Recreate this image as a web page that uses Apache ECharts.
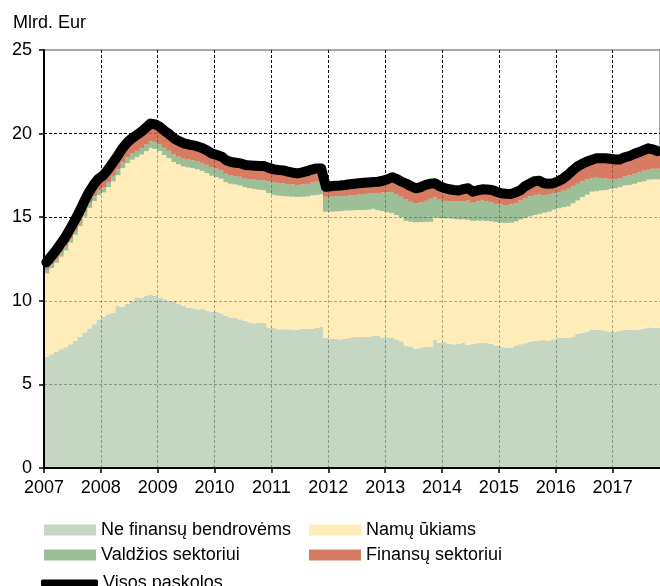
<!DOCTYPE html>
<html>
<head>
<meta charset="utf-8">
<script src="https://cdn.jsdelivr.net/npm/echarts@6/dist/echarts.min.js"></script>
<style>
  html, body { margin: 0; padding: 0; background: #fff; }
  #chart { width: 660px; height: 586px; }
</style>
</head>
<body>
<div id="chart"></div>
<script>
// Paskolos, mlrd. Eur, menesiniai duomenys 2007-01 .. 2017-10
var neFinansu = [
  6.65, 6.8, 6.95, 7.1, 7.22, 7.4, 7.6, 7.85, 8.1, 8.35, 8.6, 8.88,
  9.05, 9.2, 9.27, 9.69, 9.65, 9.81, 9.97, 10.21, 10.17, 10.29, 10.37, 10.29,
  10.17, 10.09, 10.0, 9.97, 9.81, 9.69, 9.57, 9.55, 9.49, 9.53, 9.41, 9.33,
  9.33, 9.25, 9.1, 9.0, 8.97, 8.9, 8.8, 8.7, 8.65, 8.69, 8.69, 8.4,
  8.4, 8.3, 8.3, 8.3, 8.28, 8.25, 8.31, 8.31, 8.31, 8.37, 8.43, 7.78,
  7.75, 7.72, 7.68, 7.72, 7.8, 7.83, 7.83, 7.83, 7.83, 7.93, 7.89, 7.8,
  7.8, 7.78, 7.69, 7.58, 7.3, 7.26, 7.14, 7.2, 7.24, 7.24, 7.66, 7.5,
  7.54, 7.45, 7.4, 7.42, 7.5, 7.35, 7.42, 7.47, 7.49, 7.47, 7.42, 7.32,
  7.27, 7.2, 7.2, 7.33, 7.4, 7.46, 7.55, 7.6, 7.63, 7.67, 7.6, 7.7,
  7.78, 7.78, 7.78, 7.85, 8.01, 8.09, 8.15, 8.29, 8.27, 8.26, 8.2, 8.13,
  8.15, 8.2, 8.25, 8.25, 8.26, 8.29, 8.33, 8.42, 8.37, 8.37
];
var namuUkiams = [
  4.98, 5.16, 5.32, 5.54, 5.79, 6.08, 6.35, 6.62, 6.93, 7.21, 7.37, 7.44,
  7.43, 7.6, 7.88, 7.83, 8.28, 8.43, 8.47, 8.38, 8.58, 8.66, 8.78, 8.79,
  8.79, 8.63, 8.53, 8.33, 8.36, 8.35, 8.41, 8.38, 8.37, 8.24, 8.23, 8.15,
  8.07, 8.05, 8.0, 8.0, 7.99, 8.0, 8.0, 8.04, 8.04, 7.95, 7.93, 8.05,
  7.94, 7.99, 7.97, 7.94, 7.95, 7.96, 7.91, 7.93, 7.99, 7.96, 7.94, 7.55,
  7.58, 7.63, 7.68, 7.67, 7.6, 7.59, 7.6, 7.6, 7.62, 7.57, 7.53, 7.57,
  7.5, 7.47, 7.44, 7.42, 7.48, 7.47, 7.56, 7.5, 7.48, 7.49, 7.34, 7.45,
  7.39, 7.48, 7.5, 7.45, 7.37, 7.5, 7.37, 7.33, 7.31, 7.31, 7.33, 7.38,
  7.4, 7.46, 7.47, 7.42, 7.47, 7.49, 7.5, 7.53, 7.57, 7.6, 7.73, 7.75,
  7.75, 7.82, 7.87, 7.98, 7.99, 8.11, 8.2, 8.24, 8.28, 8.34, 8.43, 8.57,
  8.58, 8.6, 8.65, 8.68, 8.74, 8.81, 8.82, 8.83, 8.9, 8.9
];
var valdzios = [
  0.22, 0.22, 0.23, 0.24, 0.24, 0.25, 0.25, 0.26, 0.27, 0.27, 0.28, 0.28,
  0.3, 0.3, 0.32, 0.33, 0.34, 0.35, 0.36, 0.38, 0.38, 0.4, 0.4, 0.42,
  0.42, 0.43, 0.44, 0.45, 0.45, 0.46, 0.47, 0.47, 0.48, 0.48, 0.49, 0.49,
  0.5, 0.5, 0.5, 0.5, 0.5, 0.52, 0.52, 0.54, 0.56, 0.58, 0.6, 0.7,
  0.76, 0.76, 0.76, 0.74, 0.73, 0.72, 0.74, 0.75, 0.77, 0.79, 0.78, 0.89,
  0.9, 0.9, 0.9, 0.88, 0.9, 0.91, 0.93, 0.96, 0.97, 0.95, 1.03, 1.11,
  1.2, 1.26, 1.25, 1.22, 1.3, 1.2, 1.13, 1.18, 1.26, 1.37, 1.18, 1.1,
  1.05, 1.04, 1.05, 1.08, 1.1, 1.14, 1.08, 1.15, 1.2, 1.17, 1.15, 1.1,
  1.09, 1.07, 1.1, 1.08, 1.13, 1.18, 1.2, 1.2, 1.18, 1.03, 1.05, 1.0,
  0.97, 1.0, 1.05, 1.02, 1.0, 0.95, 0.9, 0.8, 0.82, 0.75, 0.69, 0.58,
  0.54, 0.52, 0.55, 0.57, 0.6, 0.58, 0.63, 0.63, 0.63, 0.63
];
var finansu = [
  0.45, 0.47, 0.5, 0.52, 0.55, 0.57, 0.6, 0.62, 0.65, 0.67, 0.7, 0.7,
  0.72, 0.75, 0.78, 0.8, 0.83, 0.86, 0.9, 0.93, 0.97, 1.0, 1.05, 1.05,
  1.02, 1.0, 0.98, 0.95, 0.93, 0.92, 0.9, 0.9, 0.88, 0.87, 0.85, 0.83,
  0.82, 0.82, 0.8, 0.8, 0.8, 0.8, 0.8, 0.82, 0.83, 0.84, 0.84, 0.8,
  0.76, 0.77, 0.77, 0.74, 0.7, 0.69, 0.72, 0.76, 0.78, 0.8, 0.77, 0.6,
  0.62, 0.63, 0.64, 0.66, 0.67, 0.67, 0.67, 0.67, 0.66, 0.65, 0.67, 0.7,
  0.77, 0.88, 0.9, 0.9, 0.92, 0.92, 0.9, 0.92, 0.95, 0.9, 0.85, 0.8,
  0.77, 0.7, 0.68, 0.65, 0.71, 0.74, 0.66, 0.65, 0.67, 0.7, 0.73, 0.72,
  0.67, 0.67, 0.62, 0.65, 0.6, 0.72, 0.75, 0.82, 0.8, 0.73, 0.62, 0.58,
  0.65, 0.7, 0.82, 0.93, 1.02, 1.03, 1.07, 1.09, 1.15, 1.18, 1.2, 1.22,
  1.18, 1.13, 1.13, 1.15, 1.18, 1.2, 1.22, 1.24, 1.16, 1.05
];
var startYear = 2007;

var months = [];
for (var i = 0; i < neFinansu.length; i++) {
  months.push((startYear + Math.floor(i / 12)) + '-' + ('0' + (i % 12 + 1)).slice(-2));
}
// Visos paskolos = visu sektoriu suma
var visos = neFinansu.map(function (v, i) {
  return +(v + namuUkiams[i] + valdzios[i] + finansu[i]).toFixed(2);
});

var font = "'Liberation Sans', Arial, sans-serif";
var endYear = startYear + months.length / 12;
var gridDash = [3, 2];
var overlay = 'rgba(0,0,0,0.3)';

function bar(name, data, color) {
  return {
    name: name,
    type: 'bar',
    stack: 'visos',
    xAxisIndex: 0,
    yAxisIndex: 0,
    barWidth: '126%', // stulpeliai persidengia, kad nesimatytu tarpu
    itemStyle: { color: color },
    data: data
  };
}

function legendItem(name, left, top) {
  return {
    data: [name],
    left: left,
    top: top,
    padding: 0,
    icon: 'rect',
    itemWidth: 52,
    itemHeight: 11,
    selectedMode: false,
    textStyle: { fontSize: 18, color: '#000', fontFamily: font }
  };
}

var myChart = echarts.init(document.getElementById('chart'));
var option = {
  animation: false,
  backgroundColor: '#fff',
  title: {
    text: 'Mlrd. Eur',
    left: 13,
    top: 14,
    padding: 0,
    textStyle: { fontSize: 18, fontWeight: 'normal', color: '#000', fontFamily: font }
  },
  grid: {
    left: 44, right: -2, top: 50, bottom: 118,
    show: true, borderColor: '#a6a6a6', borderWidth: 2
  },
  legend: [
    legendItem('Ne finansų bendrovėms', 44, 521),
    legendItem('Namų ūkiams', 309, 521),
    legendItem('Valdžios sektoriui', 44, 546),
    legendItem('Finansų sektoriui', 309, 546),
    {
      data: [{ name: 'Visos paskolos', icon: 'roundRect' }],
      left: 41, top: 574, padding: 0,
      itemWidth: 57, itemHeight: 7,
      itemStyle: { color: '#000' },
      selectedMode: false,
      textStyle: { fontSize: 18, color: '#000', fontFamily: font }
    }
  ],
  xAxis: [
    { type: 'category', data: months, position: 'bottom', show: false },
    {
      // tinklelis po stulpeliais
      type: 'value', min: startYear, max: endYear, interval: 1, position: 'bottom',
      axisLine: { show: false }, axisTick: { show: false }, axisLabel: { show: false },
      splitLine: { show: true, lineStyle: { color: '#000', type: gridDash, width: 1 } }
    },
    {
      type: 'value', min: startYear, max: endYear, interval: 1, position: 'bottom', z: 10,
      axisLine: { show: true, onZero: false, lineStyle: { color: '#000', width: 2 } },
      axisTick: { show: true, length: 5, lineStyle: { color: '#000', width: 1.5 } },
      axisLabel: {
        margin: 11, fontSize: 18, color: '#000', fontFamily: font, showMaxLabel: false,
        formatter: function (v) { return Number.isInteger(v) ? String(v) : ''; }
      },
      splitLine: { show: true, lineStyle: { color: overlay, type: gridDash, width: 1 } }
    }
  ],
  yAxis: [
    {
      type: 'value', min: 0, max: 25, interval: 5, position: 'left',
      axisLine: { show: false }, axisTick: { show: false }, axisLabel: { show: false },
      splitLine: { show: true, lineStyle: {
        color: ['#000', '#000', '#000', '#000', '#000', 'rgba(0,0,0,0)'], type: gridDash, width: 1 } }
    },
    {
      type: 'value', min: 0, max: 25, interval: 5, position: 'left', z: 10,
      axisLine: { show: true, lineStyle: { color: '#000', width: 2 } },
      axisTick: { show: true, length: 5, lineStyle: { color: '#000', width: 1.5 } },
      axisLabel: { margin: 12, fontSize: 18, color: '#000', fontFamily: font },
      splitLine: { show: true, lineStyle: {
        color: [overlay, overlay, overlay, overlay, overlay, 'rgba(0,0,0,0)'], type: gridDash, width: 1 } }
    }
  ],
  series: [
    bar('Ne finansų bendrovėms', neFinansu, '#c5d6c3'),
    bar('Namų ūkiams', namuUkiams, '#ffecb9'),
    bar('Valdžios sektoriui', valdzios, '#9dbf98'),
    bar('Finansų sektoriui', finansu, '#d77c63'),
    {
      name: 'Visos paskolos',
      type: 'line',
      xAxisIndex: 0,
      yAxisIndex: 0,
      z: 20,
      symbol: 'none',
      color: '#000',
      lineStyle: { color: '#000', width: 10, join: 'round', cap: 'round' },
      data: visos
    }
  ]
};
myChart.setOption(option);
window.addEventListener('resize', function () {
  myChart.resize();
});
</script>
</body>
</html>
